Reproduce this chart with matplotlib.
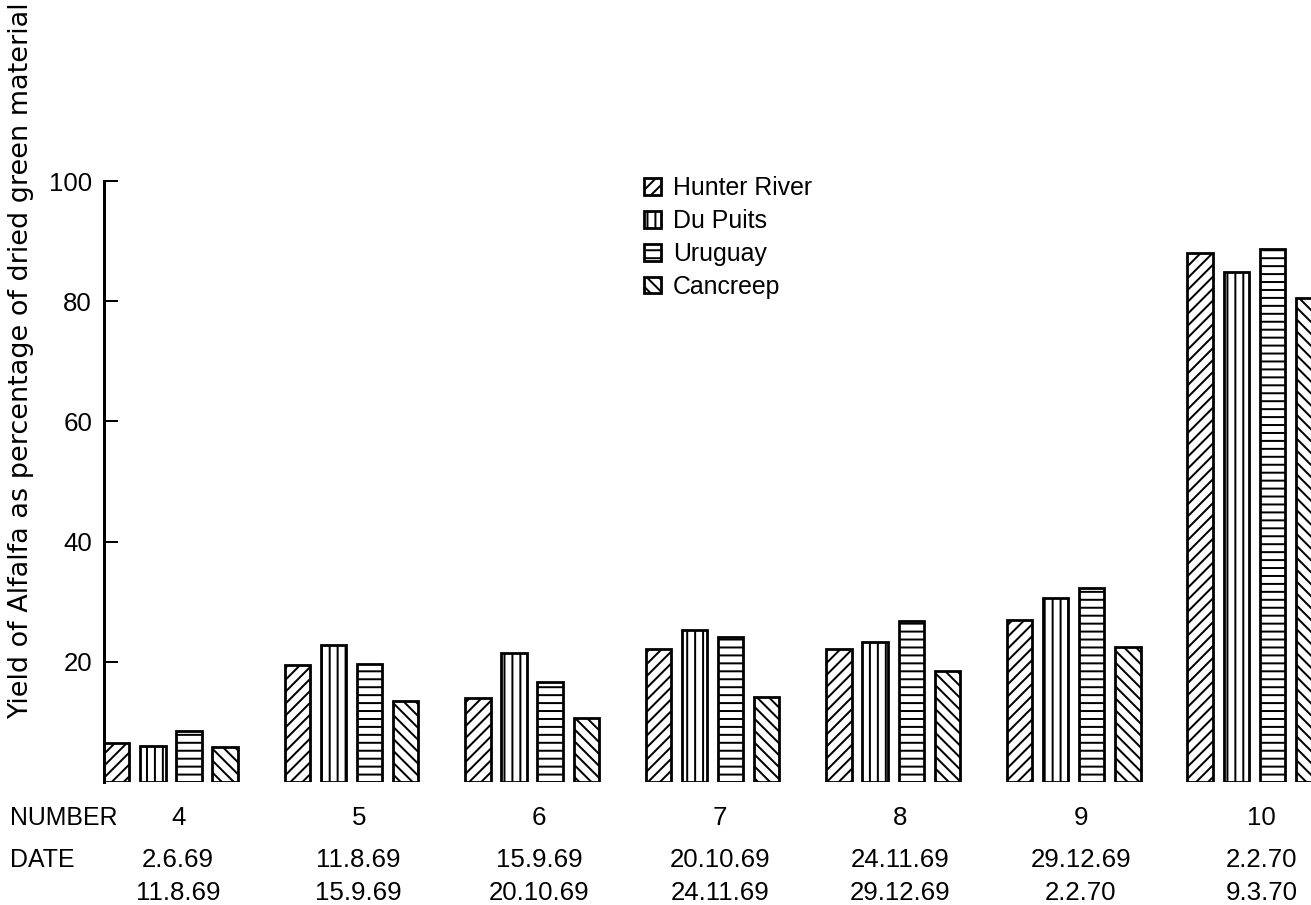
import numpy as np
import matplotlib
matplotlib.use("Agg")
import matplotlib.pyplot as plt
import matplotlib.transforms as mtransforms

# cut numbers and the dates each regrowth period ran over
numbers = ['4', '5', '6', '7', '8', '9', '10']
date_from = ['2.6.69', '11.8.69', '15.9.69', '20.10.69', '24.11.69', '29.12.69', '2.2.70']
date_to = ['11.8.69', '15.9.69', '20.10.69', '24.11.69', '29.12.69', '2.2.70', '9.3.70']

# yield as % of dried green material, one list per cultivar
hunter_river = [6.5, 19.5, 14.0, 22.2, 22.2, 27.0, 88.0]
du_puits = [6.0, 22.8, 21.5, 25.2, 23.3, 30.6, 84.8]
uruguay = [8.5, 19.6, 16.6, 24.2, 26.7, 32.3, 88.6]
cancreep = [5.8, 13.5, 10.6, 14.2, 18.5, 22.5, 80.5]

cultivars = ['Hunter River', 'Du Puits', 'Uruguay', 'Cancreep']
series = [hunter_river, du_puits, uruguay, cancreep]
hatches = ['////', '|||', '---', '\\\\\\\\']

plt.rcParams['font.family'] = ['Liberation Sans', 'DejaVu Sans']
plt.rcParams['hatch.linewidth'] = 1.0
plt.rcParams['hatch.color'] = 'black'

fig = plt.figure(figsize=(9.17, 6.33), dpi=143)
ax = fig.add_axes([0.0793, 0.1359, 0.9207, 0.6641])

x = np.arange(len(numbers))
step = 0.2
width = 0.14
for i, (vals, name, h) in enumerate(zip(series, cultivars, hatches)):
    ax.bar(x + (i - 1.5) * step, vals, width, facecolor='white',
           edgecolor='black', linewidth=1.4, hatch=h, label=name)

ax.set_xlim(-0.371, 6.316)
ax.set_ylim(0, 100)
ax.set_yticks([20, 40, 60, 80, 100])
ax.set_xticks([])
for side in ['top', 'right', 'bottom']:
    ax.spines[side].set_visible(False)
ax.spines['left'].set_linewidth(1.5)
ax.tick_params(axis='y', direction='in', length=7, width=1.0, pad=6,
               labelsize=13)

ax.legend(loc='upper left', bbox_to_anchor=(0.482, 0.819),
          bbox_transform=fig.transFigure, frameon=False, fontsize=12.5,
          handlelength=0.65, handleheight=0.65, handletextpad=0.5,
          labelspacing=0.36, borderpad=0)

fig.text(0.016, 0.602, 'Yield of Alfalfa as percentage of dried green material',
         rotation=90, ha='center', va='center', fontsize=13.6,
         family='DejaVu Sans')

# row labels under the bar groups
trans = mtransforms.blended_transform_factory(ax.transData, fig.transFigure)
fig.text(0.0076, 0.0961, 'NUMBER', ha='left', va='center', fontsize=12.5)
fig.text(0.0076, 0.0497, 'DATE', ha='left', va='center', fontsize=12.5)
for xi, n, d1, d2 in zip(x, numbers, date_from, date_to):
    ax.text(xi + 0.04, 0.0961, n, transform=trans, ha='center', va='center',
            fontsize=13)
    ax.text(xi + 0.04, 0.0497, d1, transform=trans, ha='center', va='center',
            fontsize=13)
    ax.text(xi + 0.04, 0.0133, d2, transform=trans, ha='center', va='center',
            fontsize=13)

plt.savefig('out.png', dpi=143)
